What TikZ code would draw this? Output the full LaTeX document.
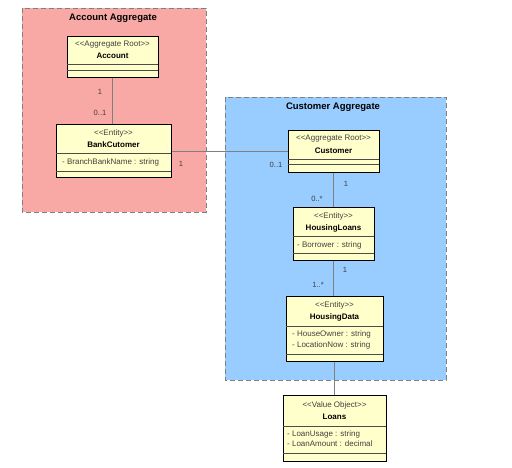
\documentclass[tikz,border=0pt]{standalone}
\usepackage{fontspec}
\setmainfont{Liberation Sans}
\usetikzlibrary{positioning}

\definecolor{aggpink}{HTML}{F9A9A5}
\definecolor{aggblue}{HTML}{99CCFF}
\definecolor{clsfill}{HTML}{FFFFCC}
\definecolor{linegray}{HTML}{7F7F7F}

\newcommand{\stype}[1]{<{}<#1>{}>}

\tikzset{
  agg/.style={draw=linegray, fill=#1, line width=0.8pt, dash pattern=on 5pt off 3pt},
  cls/.style={draw=black, fill=clsfill, line width=1pt, inner sep=0pt},
  divider/.style={draw=black!70, line width=0.6pt},
  stereo/.style={font=\fontsize{8}{9}\selectfont, text=black!75, inner sep=0pt},
  clsname/.style={font=\fontsize{8}{9}\selectfont\bfseries, inner sep=0pt},
  attr/.style={font=\fontsize{8}{9}\selectfont, text=black!75, anchor=west, inner sep=0pt},
  mult/.style={font=\fontsize{7.6}{8}\selectfont, text=black!75, inner sep=0pt},
  assoc/.style={draw=linegray, line width=0.7pt},
  aggtitle/.style={font=\fontsize{9.5}{10}\selectfont\bfseries, inner sep=0pt}
}

\begin{document}
\begin{tikzpicture}[x=1pt, y=-1pt]
  \useasboundingbox (0,0) rectangle (512,467);

  % aggregates
  \draw[agg=aggpink] (22,8) rectangle (206,212);
  \node[aggtitle] (acctitle) at (113,18) {Account Aggregate};
  \draw[agg=aggblue] (225,97) rectangle (446,380);
  \node[aggtitle] (custtitle) at (333,107) {Customer Aggregate};

  % Account
  \node[cls, minimum width=91pt, minimum height=41pt] (account) at (112.5,56.5) {};
  \node[stereo] (accst) at (112.5,45) {\stype{Aggregate Root}};
  \node[clsname] (accnm) at (112.5,56) {Account};
  \draw[divider] (67,64) -- (158,64);
  \draw[divider] (67,70) -- (158,70);

  % BankCutomer
  \node[cls, minimum width=115pt, minimum height=53pt] (bankcust) at (113.5,150.5) {};
  \node[stereo] (bcst) at (113.5,133) {\stype{Entity}};
  \node[clsname] (bcnm) at (113.5,145) {BankCutomer};
  \draw[divider] (56,153) -- (171,153);
  \node[attr] (bca1) at (62,162) {- BranchBankName : string};
  \draw[divider] (56,171) -- (171,171);

  % Customer
  \node[cls, minimum width=91pt, minimum height=42pt] (customer) at (333.5,151) {};
  \node[stereo] (cust) at (333.5,139) {\stype{Aggregate Root}};
  \node[clsname] (cunm) at (333.5,151) {Customer};
  \draw[divider] (288,159) -- (379,159);
  \draw[divider] (288,164) -- (379,164);

  % HousingLoans
  \node[cls, minimum width=81pt, minimum height=53pt] (hloans) at (333.5,233.5) {};
  \node[stereo] (hlst) at (333.5,216) {\stype{Entity}};
  \node[clsname] (hlnm) at (333.5,228) {HousingLoans};
  \draw[divider] (293,236) -- (374,236);
  \node[attr] (hla1) at (297,245) {- Borrower : string};
  \draw[divider] (293,253) -- (374,253);

  % HousingData
  \node[cls, minimum width=97pt, minimum height=65pt] (hdata) at (334.5,328.5) {};
  \node[stereo] (hdst) at (334.5,305) {\stype{Entity}};
  \node[clsname] (hdnm) at (334.5,317) {HousingData};
  \draw[divider] (286,326) -- (383,326);
  \node[attr] (hda1) at (292,334) {- HouseOwner : string};
  \node[attr] (hda2) at (292,345) {- LocationNow : string};
  \draw[divider] (286,354) -- (383,354);

  % Loans
  \node[cls, minimum width=103pt, minimum height=66pt] (loans) at (334.5,428) {};
  \node[stereo] (lost) at (334.5,405) {\stype{Value Object}};
  \node[clsname] (lonm) at (334.5,417) {Loans};
  \draw[divider] (283,426) -- (386,426);
  \node[attr] (loa1) at (287,434) {- LoanUsage : string};
  \node[attr] (loa2) at (287,444) {- LoanAmount : decimal};
  \draw[divider] (283,453) -- (386,453);

  % associations
  \draw[assoc] (account.south) -- (account.south |- bankcust.north);
  \draw[assoc] (bankcust.east |- customer.west) -- (customer.west);
  \draw[assoc] (customer.south) -- (hloans.north);
  \draw[assoc] (hloans.south) -- (hloans.south |- hdata.north);
  \draw[assoc] (hdata.south) -- (loans.north);

  % multiplicities
  \node[mult] (m1) at (100,92) {1};
  \node[mult] (m2) at (100,113) {0..1};
  \node[mult] (m3) at (181,164) {1};
  \node[mult] (m4) at (276,165) {0..1};
  \node[mult] (m5) at (346,184) {1};
  \node[mult] (m6) at (317,199) {0..*};
  \node[mult] (m7) at (345,270) {1};
  \node[mult] (m8) at (318,285) {1..*};
\end{tikzpicture}
\end{document}
